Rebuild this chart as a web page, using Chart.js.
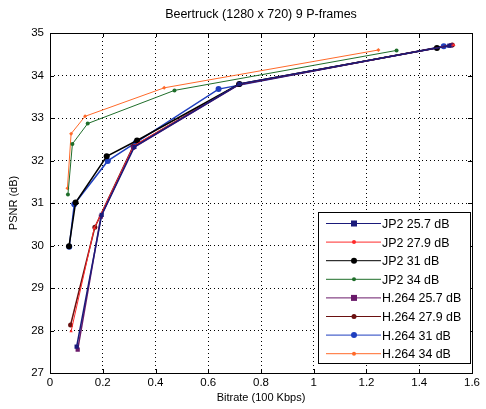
<!DOCTYPE html>
<html>
<head>
<meta charset="utf-8">
<script src="https://cdn.jsdelivr.net/npm/chart.js@4"></script>
<style>
  html, body { margin: 0; padding: 0; background: #fff; }
  #wrap { width: 486px; height: 409px; }
</style>
</head>
<body>
<div id="wrap"><canvas id="grafico" width="486" height="409"></canvas></div>
<script>
const titulo = "Beertruck (1280 x 720) 9 P-frames";
const xTicks = [0, 0.2, 0.4, 0.6, 0.8, 1, 1.2, 1.4, 1.6];
const yTicks = [27, 28, 29, 30, 31, 32, 33, 34, 35];

const series = ["JP2 25.7 dB", "JP2 27.9 dB", "JP2 31 dB", "JP2 34 dB",
                "H.264 25.7 dB", "H.264 27.9 dB", "H.264 31 dB", "H.264 34 dB"];

// bitrate (100 Kbps) / PSNR (dB)
const jp2_257_x = [0.101, 0.196, 0.320, 0.718, 1.514];
const jp2_257_y = [27.62, 30.72, 32.32, 33.80, 34.70];
const jp2_279_x = [0.080, 0.168, 0.318, 0.720, 1.531];
const jp2_279_y = [27.98, 30.41, 32.35, 33.80, 34.72];
const jp2_31_x = [0.072, 0.097, 0.215, 0.330, 0.718, 1.467];
const jp2_31_y = [29.98, 31.01, 32.10, 32.47, 33.80, 34.65];
const jp2_34_x = [0.068, 0.085, 0.143, 0.472, 1.314];
const jp2_34_y = [31.20, 32.39, 32.87, 33.65, 34.59];
const h264_257_x = [0.105, 0.193, 0.315, 0.715, 1.520];
const h264_257_y = [27.55, 30.68, 32.30, 33.78, 34.71];
const h264_279_x = [0.078, 0.170, 0.315, 0.715, 1.525];
const h264_279_y = [28.13, 30.43, 32.33, 33.79, 34.72];
const h264_31_x = [0.073, 0.092, 0.219, 0.325, 0.639, 1.493];
const h264_31_y = [29.97, 30.97, 31.99, 32.42, 33.68, 34.69];
const h264_34_x = [0.066, 0.080, 0.133, 0.433, 1.245];
const h264_34_y = [31.35, 32.63, 33.04, 33.71, 34.60];

const cores = ["#1a1a7a", "#ff2a2a", "#000000", "#1f6e2a",
               "#6a1a6a", "#6a1010", "#1f3fbf", "#ff6a2a"];
const marcadores = ["rect", "triangle", "circle", "circle",
                    "rect", "circle", "circle", "rectRot"];
const raios = [3, 2, 3, 2, 3, 2.5, 3, 2];

function pares(xs, ys) {
  return xs.map(function (x, i) { return { x: x, y: ys[i] }; });
}

const dados = [
  pares(jp2_257_x, jp2_257_y), pares(jp2_279_x, jp2_279_y),
  pares(jp2_31_x, jp2_31_y), pares(jp2_34_x, jp2_34_y),
  pares(h264_257_x, h264_257_y), pares(h264_279_x, h264_279_y),
  pares(h264_31_x, h264_31_y), pares(h264_34_x, h264_34_y)
];

const fonte = "'Liberation Sans', Arial, sans-serif";

// titulo, rotulos dos eixos, moldura e legenda
const extras = {
  id: "extras",
  afterDraw: function (chart) {
    const ctx = chart.ctx;
    const a = chart.chartArea;
    const sx = chart.scales.x, sy = chart.scales.y;
    ctx.save();
    ctx.strokeStyle = "#000";
    ctx.lineWidth = 1;
    ctx.strokeRect(a.left + 0.5, a.top + 0.5, a.right - a.left, a.bottom - a.top);

    // marcas dos ticks para dentro
    ctx.beginPath();
    xTicks.forEach(function (v) {
      const px = Math.round(sx.getPixelForValue(v)) + 0.5;
      ctx.moveTo(px, a.bottom); ctx.lineTo(px, a.bottom - 4);
      ctx.moveTo(px, a.top); ctx.lineTo(px, a.top + 4);
    });
    yTicks.forEach(function (v) {
      const py = Math.round(sy.getPixelForValue(v)) + 0.5;
      ctx.moveTo(a.left, py); ctx.lineTo(a.left + 4, py);
      ctx.moveTo(a.right, py); ctx.lineTo(a.right - 4, py);
    });
    ctx.stroke();

    ctx.fillStyle = "#000";
    ctx.font = "12.5px " + fonte;
    ctx.textAlign = "center";
    ctx.textBaseline = "middle";
    ctx.fillText(titulo, (a.left + a.right) / 2, 15);
    ctx.font = "11px " + fonte;
    ctx.fillText("Bitrate (100 Kbps)", (a.left + a.right) / 2, 398);
    ctx.translate(14, (a.top + a.bottom) / 2);
    ctx.rotate(-Math.PI / 2);
    ctx.fillText("PSNR (dB)", 0, 0);
    ctx.restore();

    // legenda
    ctx.save();
    const bx = 318, by = 212, bw = 152, bh = 151;
    ctx.fillStyle = "#fff";
    ctx.fillRect(bx, by, bw, bh);
    ctx.strokeStyle = "#000";
    ctx.strokeRect(bx + 0.5, by + 0.5, bw, bh);
    ctx.font = "12.4px " + fonte;
    ctx.textAlign = "left";
    ctx.textBaseline = "middle";
    series.forEach(function (nome, i) {
      const yy = by + 11.5 + i * 18.6;
      ctx.strokeStyle = cores[i];
      ctx.lineWidth = 1;
      ctx.beginPath();
      ctx.moveTo(bx + 8, yy);
      ctx.lineTo(bx + 63, yy);
      ctx.stroke();
      ctx.fillStyle = cores[i];
      const r = raios[i];
      if (marcadores[i] === "rect") {
        ctx.fillRect(bx + 36 - r, yy - r, 2 * r, 2 * r);
      } else {
        ctx.beginPath();
        ctx.arc(bx + 36, yy, r, 0, 2 * Math.PI);
        ctx.fill();
      }
      ctx.fillStyle = "#000";
      ctx.fillText(nome, bx + 64, yy + 1);
    });
    ctx.restore();
  }
};

new Chart(document.getElementById("grafico").getContext("2d"), {
  type: "scatter",
  data: {
    datasets: series.map(function (nome, i) {
      return {
        label: nome,
        data: dados[i],
        showLine: true,
        borderColor: cores[i],
        backgroundColor: cores[i],
        borderWidth: (i === 3 || i === 7 || i === 1) ? 1 : 1.5,
        pointStyle: marcadores[i],
        pointRadius: raios[i],
        pointBorderWidth: 0
      };
    })
  },
  options: {
    responsive: false,
    animation: false,
    layout: { padding: { top: 33, right: 14, left: 0, bottom: 0 } },
    plugins: { legend: { display: false }, tooltip: { enabled: false } },
    scales: {
      x: {
        type: "linear",
        min: xTicks[0],
        max: xTicks[xTicks.length - 1],
        afterBuildTicks: function (s) { s.ticks = xTicks.map(function (v) { return { value: v }; }); },
        afterFit: function (s) { s.height = 36; },
        ticks: {
          color: "#000",
          font: { family: fonte, size: 11.5 },
          padding: 3,
          maxRotation: 0,
          callback: function (v) { return String(v); }
        },
        grid: { color: "#000", lineWidth: 1, drawTicks: false },
        border: { display: false, dash: [1, 3] }
      },
      y: {
        type: "linear",
        min: yTicks[0],
        max: yTicks[yTicks.length - 1],
        afterBuildTicks: function (s) { s.ticks = yTicks.map(function (v) { return { value: v }; }); },
        afterFit: function (s) { s.width = 50; },
        ticks: {
          color: "#000",
          font: { family: fonte, size: 11.5 },
          padding: 6,
          callback: function (v) { return String(v); }
        },
        grid: { color: "#000", lineWidth: 1, drawTicks: false },
        border: { display: false, dash: [1, 3] }
      }
    }
  },
  plugins: [extras]
});
</script>
</body>
</html>
